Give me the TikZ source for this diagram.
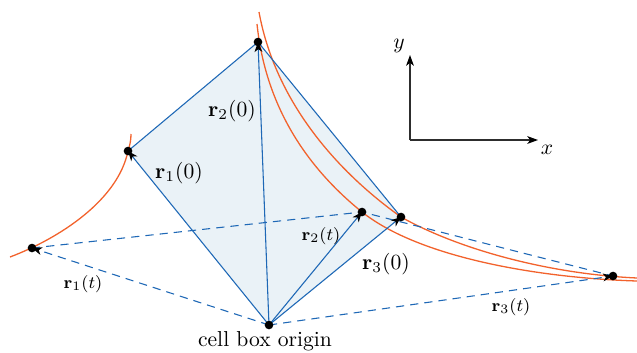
\documentclass[tikz,border=0pt]{standalone}
\usetikzlibrary{arrows.meta}
\definecolor{lineblue}{RGB}{30,104,182}
\definecolor{curveorange}{RGB}{242,98,44}
\definecolor{cellfill}{RGB}{234,242,247}
\definecolor{axisgray}{RGB}{45,45,45}
\tikzset{
  pt/.style={circle,fill=black,inner sep=0pt,minimum size=4pt},
  tipstyle/.style={-{Stealth[length=4.6pt,width=3.6pt,inset=1.3pt,color=black]}},
  vec/.style={draw=lineblue,line width=0.5pt,tipstyle},
  celledge/.style={draw=lineblue,line width=0.5pt},
  dashvec/.style={draw=lineblue,line width=0.5pt,dash pattern=on 3.8pt off 2.8pt},
  orbit/.style={draw=curveorange,line width=0.6pt},
  axis/.style={draw=axisgray,line width=0.5pt,-{Stealth[length=5pt,width=3.6pt,inset=1.4pt,color=black]}},
  biglab/.style={font=\normalsize,inner sep=0pt},
  smalllab/.style={font=\footnotesize,inner sep=0pt},
}
\begin{document}
\begin{tikzpicture}[x=0.463pt,y=-0.463pt]
\useasboundingbox (0,0) rectangle (637,352);
% points
\coordinate (O) at (269,325);
\coordinate (A) at (128,151);
\coordinate (B) at (258,42);
\coordinate (C) at (401,217);
\coordinate (P1) at (32,248);
\coordinate (P2) at (362,212);
\coordinate (P3) at (613,276);
% cell
\fill[cellfill] (O) -- (A) -- (B) -- (C) -- cycle;
% orange curves
\draw[orbit] (10,257) .. controls (60,238) and (118,200) .. (A) .. controls (130,145) and (131,140) .. (131,134);
\draw[orbit] (257,24) .. controls (266,110) and (310,170) .. (P2) .. controls (420,258) and (540,278) .. (637,281);
\draw[orbit] (259,12) .. controls (275,100) and (335,170) .. (C) .. controls (460,250) and (550,274) .. (637,278);
% cell edges
\draw[celledge] (A) -- (B) -- (C);
% dashed
\draw[dashvec] (P1) -- (P2) -- (P3);
\draw[dashvec,tipstyle] (O) -- (P1);
\draw[dashvec,tipstyle] (O) -- (P3);
% vectors
\draw[vec] (O) -- (A);
\draw[vec] (O) -- (B);
\draw[vec] (O) -- (C);
\draw[vec] (O) -- (P2);
% dots
\foreach \p in {O,A,B,C,P1,P2,P3} \node[pt] (d\p) at (\p) {};
% labels
\node[biglab] (l1) at (179,173) {$\mathbf{r}_1(0)$};
\node[biglab] (l2) at (232,111) {$\mathbf{r}_2(0)$};
\node[biglab] (l3) at (386,264) {$\mathbf{r}_3(0)$};
\node[smalllab] (m1) at (83,284) {$\mathbf{r}_1(t)$};
\node[smalllab] (m2) at (321,236) {$\mathbf{r}_2(t)$};
\node[smalllab] (m3) at (511,307) {$\mathbf{r}_3(t)$};
\node[inner sep=0pt,anchor=base] (orig) at (265,346) {cell box origin};
% axes
\coordinate (corner) at (410,140);
\coordinate (ytip) at (410,55);
\coordinate (xtip) at (538,140);
\draw[axis] (corner) -- (ytip);
\draw[axis] (corner) -- (xtip);
\node[inner sep=0pt] (ylab) at (399,46) {$y$};
\node[inner sep=0pt] (xlab) at (547,150) {$x$};
\end{tikzpicture}
\end{document}
